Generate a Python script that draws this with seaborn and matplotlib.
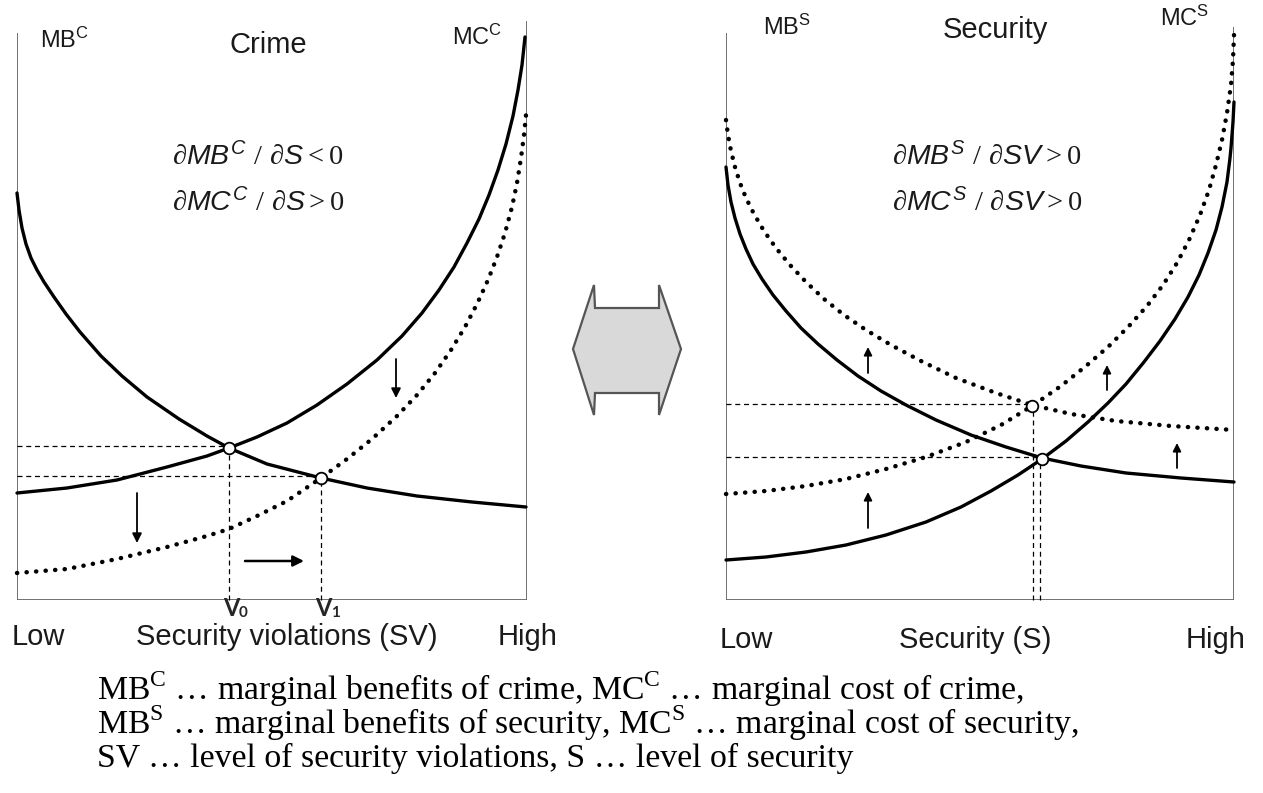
import matplotlib
matplotlib.use("Agg")
import matplotlib.pyplot as plt
from matplotlib.patches import Polygon
import seaborn as sns

# Vrijednosti ocitane sa slike (jedinice: px od ishodista panela, y prema gore)
# Lijevi panel - Crime
mbc_x = [0, 2, 5, 9, 14, 20, 27, 37, 49, 63, 84, 105, 130, 162, 190, 212, 250, 304, 350, 400, 455, 509]
mbc_y = [407, 390, 372, 356, 342, 330, 318, 303, 286, 268, 244, 224, 203, 181, 164, 152, 136, 122, 112, 104, 98, 93]
mcc_x = [0, 50, 100, 150, 190, 212, 240, 270, 300, 330, 360, 385, 405, 422, 437, 450, 462, 472, 481, 489,
         496, 501, 505, 508]
mcc_y = [107, 112, 120, 133, 144, 152, 163, 177, 195, 216, 240, 264, 287, 310, 333, 357, 381, 405, 430, 456,
         484, 510, 535, 563]
mcc2_x = [0, 50, 100, 150, 190, 212, 240, 270, 304, 330, 355, 380, 400, 418, 434, 448, 460, 471, 480, 488,
          495, 500, 504, 507, 509]
mcc2_y = [27, 31, 41, 53, 64, 71, 84, 99, 122, 141, 161, 184, 205, 227, 250, 273, 296, 320, 343, 367,
          393, 417, 442, 465, 485]
crime_eq_x = [212, 304]
crime_eq_y = [152, 122]

# Desni panel - Security
mbs_x = [0, 2, 5, 9, 14, 20, 27, 36, 47, 60, 75, 92, 111, 132, 155, 180, 210, 245, 280, 316, 355, 400, 455, 508]
mbs_y = [433, 415, 398, 382, 366, 351, 336, 321, 305, 289, 272, 256, 240, 224, 209, 195, 180, 165, 153, 142,
         134, 127, 122, 118]
mbs2_x = [0, 2, 5, 9, 14, 20, 28, 38, 50, 64, 80, 98, 118, 140, 165, 195, 230, 270, 306, 345, 390, 445, 508]
mbs2_y = [480, 465, 449, 433, 417, 402, 386, 369, 352, 335, 318, 301, 285, 270, 255, 239, 222, 207, 195, 186,
          179, 174, 170]
mcs_x = [0, 40, 80, 120, 160, 200, 235, 265, 292, 316, 340, 362, 382, 400, 418, 434, 449, 462, 473, 482,
         490, 496, 501, 504, 505, 507, 508]
mcs_y = [40, 43, 48, 55, 65, 78, 93, 109, 125, 141, 159, 178, 197, 216, 238, 259, 281, 303, 325, 347,
         370, 393, 418, 442, 452, 478, 498]
mcs2_x = [0, 40, 80, 120, 160, 200, 240, 275, 306, 335, 360, 383, 403, 421, 437, 451, 463, 474, 483, 490,
          496, 501, 505, 507, 508]
mcs2_y = [106, 109, 114, 121, 131, 143, 158, 175, 194, 214, 234, 254, 274, 294, 315, 337, 360, 385, 410, 435,
          460, 487, 515, 540, 565]
sec_eq_x = [306, 316]
sec_eq_y = [194, 141]

footnote = [
    r"MB$^{\mathrm{C}}$ … marginal benefits of crime, MC$^{\mathrm{C}}$ … marginal cost of crime,",
    r"MB$^{\mathrm{S}}$ … marginal benefits of security, MC$^{\mathrm{S}}$ … marginal cost of security,",
    "SV … level of security violations, S … level of security",
]

sns.set_theme(style="white")
plt.rcParams["font.family"] = ["Liberation Sans", "DejaVu Sans"]
plt.rcParams["mathtext.fontset"] = "custom"
plt.rcParams["mathtext.rm"] = "Liberation Serif"
plt.rcParams["mathtext.it"] = "Liberation Sans:italic"
plt.rcParams["mathtext.sf"] = "Liberation Sans"

W, H = 1263, 793
fig = plt.figure(figsize=(W / 100, H / 100), dpi=100)
fig.patch.set_facecolor("white")

# pozadinska osa u pikselima za dvostruku strelicu
bg = fig.add_axes([0, 0, 1, 1], zorder=0)
bg.set_xlim(0, W)
bg.set_ylim(H, 0)
bg.axis("off")
arrow_pts = [(573, 349), (594, 285), (595, 308), (659, 308), (659, 285), (681, 349),
             (659, 415), (659, 393), (595, 393), (594, 415)]
bg.add_patch(Polygon(arrow_pts, closed=True, facecolor="#d9d9d9", edgecolor="#555555", lw=1.6))


def panel(left_px, width_px):
    ax = fig.add_axes([left_px / W, 193 / H, width_px / W, 580 / H], zorder=2)
    ax.set_xlim(0, width_px)
    ax.set_ylim(0, 580)
    ax.patch.set_alpha(0)
    for s in ax.spines.values():
        s.set_visible(False)
    ax.set_xticks([])
    ax.set_yticks([])
    return ax


def curve(ax, xs, ys, dotted=False):
    if dotted:
        sns.lineplot(x=xs, y=ys, ax=ax, color="black", linewidth=3.2, linestyle=(0, (0.05, 2.1)),
                     dash_capstyle="round", sort=False, estimator=None, clip_on=False)
    else:
        sns.lineplot(x=xs, y=ys, ax=ax, color="black", linewidth=2.4, sort=False,
                     estimator=None, clip_on=False, solid_joinstyle="round")


def guides(ax, xs, ys, vx=None, below=0):
    vx = xs if vx is None else vx
    for x, y, v in zip(xs, ys, vx):
        ax.hlines(y + 2, 0, x, colors="black", linestyles=(0, (4, 3)), lw=0.9)
        ax.vlines(v, below, y, colors="black", linestyles=(0, (4, 3)), lw=0.9, clip_on=False)


def arrow(ax, tail, tip, lw=1.3, ms=14):
    ax.annotate("", xy=tip, xytext=tail,
                arrowprops=dict(arrowstyle="-|>", color="black", lw=lw, mutation_scale=ms,
                                shrinkA=0, shrinkB=0))


def eq_points(ax, xs, ys):
    sns.scatterplot(x=xs, y=ys, ax=ax, s=70, color="white", edgecolor="black",
                    linewidth=1.3, zorder=5, clip_on=False, legend=False)


frame = "#666666"
txt = "#1a1a1a"

# ---- Crime ----
ax1 = panel(17, 510)
ax1.hlines(0, 0, 510, colors=frame, lw=1.3)
ax1.vlines(0, 0, 567, colors=frame, lw=1.3)
ax1.vlines(510, 0, 579, colors=frame, lw=1.3)
guides(ax1, crime_eq_x, crime_eq_y)
curve(ax1, mbc_x, mbc_y)
curve(ax1, mcc_x, mcc_y)
curve(ax1, mcc2_x, mcc2_y, dotted=True)
eq_points(ax1, crime_eq_x, crime_eq_y)
arrow(ax1, (120, 107), (120, 57))
arrow(ax1, (379, 241), (379, 202))
arrow(ax1, (228, 39), (287, 39), lw=1.8, ms=16)

ax1.text(23, 560, r"MB$^{\mathsf{C}}$", fontsize=17, color=txt, va="center")
ax1.text(251, 555, "Crime", fontsize=21, color=txt, ha="center", va="center")
ax1.text(435, 563, r"MC$^{\mathsf{C}}$", fontsize=17, color=txt, va="center")
ax1.text(241, 443, r"$\partial MB^{C}\ /\ \partial S < 0$", fontsize=20.5, color=txt, ha="center", va="center")
ax1.text(241, 397, r"$\partial MC^{C}\ /\ \partial S > 0$", fontsize=20.5, color=txt, ha="center", va="center")
for x, sub in zip(crime_eq_x, ["0", "1"]):
    ax1.text(x + 2, -9, "V", fontsize=17, fontweight="bold", family="Lato", ha="center", va="center")
    ax1.annotate(sub, xy=(x + 2, -9), xytext=(9, -3), textcoords="offset points", fontsize=11,
                 fontweight="bold", family="Lato", ha="center", va="center", annotation_clip=False)
ax1.text(21, -37, "Low", fontsize=21, color=txt, ha="center", va="center")
ax1.text(270, -37, "Security violations (SV)", fontsize=21, color=txt, ha="center", va="center")
ax1.text(511, -37, "High", fontsize=21, color=txt, ha="center", va="center")

# ---- Security ----
ax2 = panel(726, 508)
ax2.hlines(0, 0, 508, colors=frame, lw=1.3)
ax2.vlines(0, 0, 567, colors=frame, lw=1.3)
ax2.vlines(508, 0, 573, colors=frame, lw=1.3)
guides(ax2, sec_eq_x, sec_eq_y, vx=[307, 314])
curve(ax2, mbs_x, mbs_y)
curve(ax2, mcs_x, mcs_y)
curve(ax2, mbs2_x, mbs2_y, dotted=True)
curve(ax2, mcs2_x, mcs2_y, dotted=True)
eq_points(ax2, sec_eq_x, sec_eq_y)
arrow(ax2, (142, 227), (142, 253), ms=12)
arrow(ax2, (381, 210), (381, 235), ms=12)
arrow(ax2, (451, 132), (451, 157), ms=12)
arrow(ax2, (142, 72), (142, 108), ms=12)

ax2.text(37, 573, r"MB$^{\mathsf{S}}$", fontsize=17, color=txt, va="center")
ax2.text(269, 570, "Security", fontsize=21, color=txt, ha="center", va="center")
ax2.text(434, 582, r"MC$^{\mathsf{S}}$", fontsize=17, color=txt, va="center")
ax2.text(261, 443, r"$\partial MB^{S}\ /\ \partial SV > 0$", fontsize=20.5, color=txt, ha="center", va="center")
ax2.text(261, 397, r"$\partial MC^{S}\ /\ \partial SV > 0$", fontsize=20.5, color=txt, ha="center", va="center")
ax2.text(20, -40, "Low", fontsize=21, color=txt, ha="center", va="center")
ax2.text(249, -40, "Security (S)", fontsize=21, color=txt, ha="center", va="center")
ax2.text(490, -40, "High", fontsize=21, color=txt, ha="center", va="center")

# fusnota: prva dva reda zajedno, treci posebno
fig.text(97 / W, 1 - 669 / H, "\n".join(footnote[:2]), fontsize=24.3, family="Liberation Serif",
         color="black", ha="left", va="top", linespacing=0.84)
fig.text(97 / W, 1 - 767 / H, footnote[2], fontsize=24.3, family="Liberation Serif",
         color="black", ha="left", va="baseline")

fig.savefig("out.png", dpi=100, facecolor="white")
